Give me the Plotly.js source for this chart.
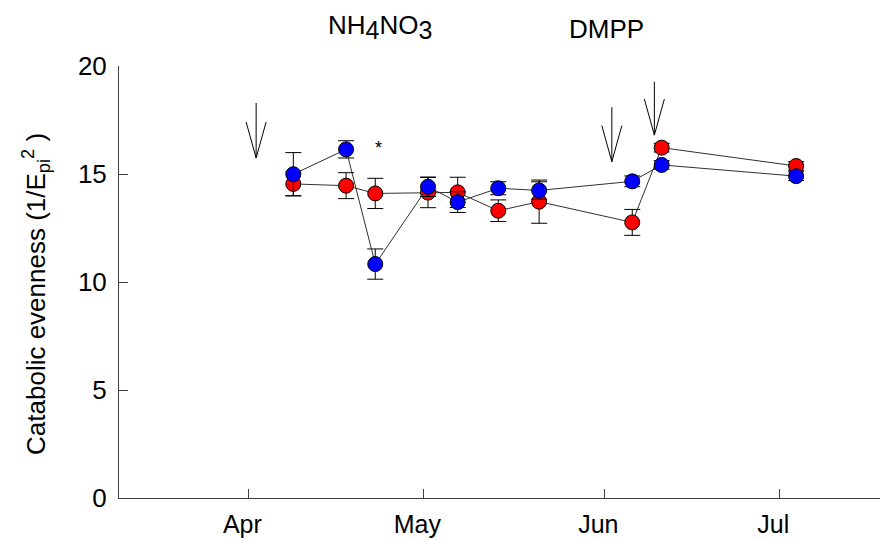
<!DOCTYPE html>
<html>
<head>
<meta charset="utf-8">
<script src="https://cdn.plot.ly/plotly-3.0.1.min.js"></script>
<style>html,body{margin:0;padding:0;background:#fff;}#chart{width:880px;height:540px;}</style>
</head>
<body>
<div id="chart"></div>
<script>
// ---- data ----
const sampleDates = ['2009-04-08 17:00','2009-04-17 18:00','2009-04-22 18:00','2009-05-01 19:00','2009-05-06 21:00','2009-05-13 20:00','2009-05-20 20:00','2009-06-05 19:00','2009-06-10 20:00','2009-07-03 21:00'];
const blueValues = [14.99, 16.14, 10.83, 14.41, 13.70, 14.34, 14.24, 14.66, 15.42, 14.90];
const blueErrors = [1.00, 0.40, 0.70, 0.45, 0.48, 0.30, 0.40, 0.25, 0.20, 0.20];
const redValues  = [14.54, 14.46, 14.10, 14.14, 14.15, 13.30, 13.72, 12.76, 16.22, 15.37];
const redErrors  = [0.55, 0.60, 0.70, 0.70, 0.70, 0.50, 1.00, 0.60, 0.20, 0.20];

const monthTickDates = ['2009-04-01','2009-05-01','2009-06-01','2009-07-01'];
const monthTickLabels = ['Apr','May','Jun','Jul'];
const yTickValues = [0, 5, 10, 15, 20];

const arrowDates = ['2009-04-02 08:00','2009-06-02 07:00','2009-06-09 14:00'];
const arrowTips  = [15.74, 15.57, 16.80];
const arrowTops  = [18.29, 18.09, 19.27];

const starDate = '2009-04-23 08:00';
const starValue = 16.2;

const treatmentLabels = ['NH<sub><span style="font-size:25px">4</span></sub>NO<sub><span style="font-size:25px">3</span></sub>', 'DMPP'];
const yTitleText = 'Catabolic evenness (1/E<sub>pi</sub><sup>2</sup> )';

// ---- styling ----
const FONT = 'Liberation Sans, Arial, Helvetica, sans-serif';
const AXIS_COLOR = '#404040';
const FS = 26;

function seriesTrace(y, err, color) {
  return {
    type: 'scatter', mode: 'lines+markers',
    x: sampleDates, y: y,
    line: {color: '#303030', width: 1},
    marker: {color: color, size: 15, line: {color: '#000', width: 1}},
    error_y: {type: 'data', array: err, visible: true, color: '#000', thickness: 1, width: 8},
    showlegend: false, hoverinfo: 'skip', cliponaxis: false
  };
}

const traces = [
  seriesTrace(redValues, redErrors, '#FF0000'),
  seriesTrace(blueValues, blueErrors, '#0000FF')
];

const headLen = 1.67; // in y units (~36 px)
const shapes = [];
arrowDates.forEach((d, i) => {
  const ln = {color: '#000', width: 1};
  shapes.push({type: 'line', xref: 'x', yref: 'y', x0: d, x1: d, y0: arrowTips[i], y1: arrowTops[i], line: ln});
  shapes.push({type: 'line', xref: 'x', yref: 'y', xsizemode: 'pixel', xanchor: d, x0: -10, x1: 0, y0: arrowTips[i] + headLen, y1: arrowTips[i], line: ln});
  shapes.push({type: 'line', xref: 'x', yref: 'y', xsizemode: 'pixel', xanchor: d, x0: 10, x1: 0, y0: arrowTips[i] + headLen, y1: arrowTips[i], line: ln});
});

const annotations = [
  {xref: 'x', yref: 'y', x: starDate, y: starValue, text: '*', showarrow: false, font: {family: FONT, size: 18, color: '#000'}},
  {xref: 'paper', yref: 'paper', x: 0.343, y: 1.09, text: treatmentLabels[0], showarrow: false, xanchor: 'center', yanchor: 'middle', font: {family: FONT, size: FS, color: '#000'}},
  {xref: 'paper', yref: 'paper', x: 0.641, y: 1.085, text: treatmentLabels[1], showarrow: false, xanchor: 'center', yanchor: 'middle', font: {family: FONT, size: FS, color: '#000'}},
  {xref: 'paper', yref: 'paper', x: -0.11, y: 0.473, text: yTitleText, textangle: -90, showarrow: false, xanchor: 'center', yanchor: 'middle', font: {family: FONT, size: FS, color: '#000'}}
];

const layout = {
  width: 880, height: 540, autosize: false,
  margin: {l: 119, r: 0, t: 66, b: 42, pad: 0},
  paper_bgcolor: '#fff', plot_bgcolor: '#fff',
  font: {family: FONT, size: FS, color: '#000'},
  showlegend: false,
  xaxis: {
    type: 'date', range: ['2009-03-09 20:00', '2009-07-18 06:00'],
    tickmode: 'array', tickvals: monthTickDates, ticktext: monthTickLabels,
    ticks: 'inside', ticklen: 9, tickwidth: 1, tickcolor: AXIS_COLOR,
    showline: true, linecolor: AXIS_COLOR, linewidth: 1,
    showgrid: false, zeroline: false, ticklabelshift: -6, ticklabelstandoff: 4,
    tickfont: {family: FONT, size: 25, color: '#000'}
  },
  yaxis: {
    range: [0, 20], tickmode: 'array', tickvals: yTickValues,
    ticks: 'inside', ticklen: 9, tickwidth: 1, tickcolor: AXIS_COLOR,
    showline: true, linecolor: AXIS_COLOR, linewidth: 1,
    showgrid: false, zeroline: false, ticklabelstandoff: 6,
    tickfont: {family: FONT, size: FS, color: '#000'}
  },
  shapes: shapes,
  annotations: annotations
};

Plotly.newPlot('chart', traces, layout, {staticPlot: true, displayModeBar: false});
</script>
</body>
</html>
